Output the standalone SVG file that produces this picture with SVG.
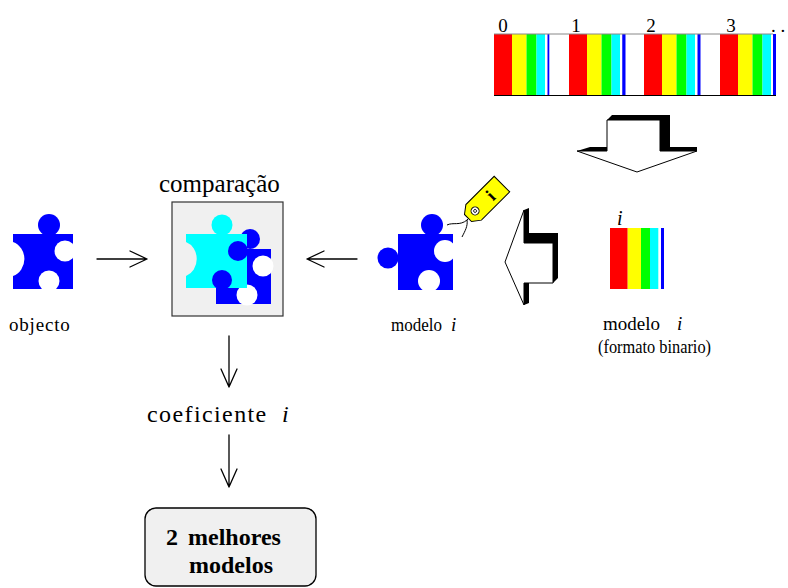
<svg xmlns="http://www.w3.org/2000/svg" width="788" height="588" viewBox="0 0 788 588">
  <style>
    .t { font-family: "Liberation Serif", "Times New Roman", serif; fill: #000; }
    .blue { fill: #0000ff; }
    .cyan { fill: #00ffff; }
    .hole { fill: #ffffff; }
    .link { fill: none; stroke: #000; stroke-width: 1.3; stroke-linecap: round; stroke-linejoin: round; }
    .rope { fill: none; stroke: #000; stroke-width: 1; }
  </style>

  <!-- binary stream of models -->
  <g id="stream">
    <g id="seg0">
      <rect x="494" y="34" width="18" height="61" fill="#ff0000"/>
      <rect x="512" y="34" width="14.5" height="61" fill="#ffff00"/>
      <rect x="526.5" y="34" width="10" height="61" fill="#00ff00"/>
      <rect x="536.5" y="34" width="8.5" height="61" fill="#00ffff"/>
      <rect x="547.5" y="34" width="1.8" height="61" fill="#0000ff"/>
    </g>
    <use href="#seg0" transform="translate(75,0)"/>
    <use href="#seg0" transform="translate(150,0)"/>
    <use href="#seg0" transform="translate(226,0)"/>
    <rect x="622.5" y="34" width="3" height="61" fill="#0000ff"/>
    <rect x="698" y="34" width="2.5" height="61" fill="#0000ff"/>
    <rect x="773" y="34" width="3" height="61" fill="#0000ff"/>
    <line x1="494" y1="34" x2="773" y2="34" stroke="#888" stroke-width="1"/>
    <line x1="494" y1="95.5" x2="776" y2="95.5" stroke="#000" stroke-width="1"/>
    <text class="t" font-size="19" x="503" y="32" text-anchor="middle">0</text>
    <text class="t" font-size="19" x="576" y="32" text-anchor="middle">1</text>
    <text class="t" font-size="19" x="651" y="32" text-anchor="middle">2</text>
    <text class="t" font-size="19" x="731" y="32" text-anchor="middle">3</text>
    <text class="t" font-size="19" x="771" y="32">. .</text>
  </g>

  <!-- block arrow: stream down to single model -->
  <g id="arrow-down">
    <polygon points="577,151 590,147 607,147 607,120 612,115 670,115 670,147 697,147 697,151" fill="#000"/>
    <polygon points="607,120 660,120 660,151 697,151 637,172 577,151 607,151" fill="#fff" stroke="#000" stroke-width="1"/>
  </g>

  <!-- block arrow: binary model to piece -->
  <g id="arrow-left">
    <polygon points="524,210 529,208 529,233 558,233 558,278 553,283 529,283 529,303 524,305" fill="#000"/>
    <polygon points="505,262 524,210 524,243 553,243 553,283 524,283 524,305" fill="#fff" stroke="#000" stroke-width="1"/>
  </g>

  <!-- model i in binary form -->
  <g id="binario">
    <rect x="610" y="228" width="17.7" height="61" fill="#ff0000"/>
    <rect x="627.7" y="228" width="13.3" height="61" fill="#ffff00"/>
    <rect x="641" y="228" width="9" height="61" fill="#00ff00"/>
    <rect x="650" y="228" width="8.3" height="61" fill="#00ffff"/>
    <rect x="661" y="228" width="3" height="61" fill="#0000ff"/>
    <text class="t" font-size="20" font-style="italic" x="617" y="225">i</text>
    <text class="t" font-size="19" x="603" y="330">modelo</text>
    <text class="t" font-size="19" font-style="italic" x="677" y="330">i</text>
    <text class="t" font-size="19" x="598" y="353" textLength="113" lengthAdjust="spacingAndGlyphs">(formato binario)</text>
  </g>

  <!-- object piece -->
  <g id="objecto">
    <circle class="blue" cx="49" cy="225" r="11"/>
    <path class="blue" d="M13,234 H73 V289 H13 V276 A17 18 0 0 0 13 242 Z"/>
    <circle class="hole" cx="65" cy="251" r="10.5"/>
    <circle class="hole" cx="49" cy="281" r="10.5"/>
    <text class="t" font-size="19" x="9" y="331" letter-spacing="0.8">objecto</text>
  </g>

  <!-- model piece with label tag -->
  <g id="modelo">
    <circle class="blue" cx="432" cy="225" r="11"/>
    <circle class="blue" cx="388" cy="258" r="10.5"/>
    <rect class="blue" x="398" y="234" width="55" height="56"/>
    <circle class="hole" cx="445" cy="251" r="11"/>
    <circle class="hole" cx="429" cy="281" r="11"/>
    <path class="rope" d="M474,213 L467,220 C460,226 453,222 447,225"/>
    <path class="rope" d="M467,220 C468,226 465,231 462,237"/>
    <g transform="translate(468,218) rotate(-45)">
      <polygon points="0,-5 8,-11 48,-11 48,11 8,11 0,5" fill="#ffff00" stroke="#000" stroke-width="1"/>
      <circle cx="10" cy="0" r="4" fill="#fff" stroke="#000" stroke-width="1"/>
      <circle cx="10" cy="0" r="1.5" fill="none" stroke="#000" stroke-width="0.8"/>
      <text class="t" font-size="18" font-weight="bold" x="32" y="6" text-anchor="middle">i</text>
    </g>
    <text class="t" font-size="19" x="391" y="331" textLength="51" lengthAdjust="spacingAndGlyphs">modelo</text>
    <text class="t" font-size="19" font-style="italic" x="451" y="331">i</text>
  </g>

  <!-- comparison of object and model -->
  <g id="comparacao">
    <text class="t" font-size="25" x="159" y="192">comparação</text>
    <rect x="172" y="202" width="111" height="114" fill="#f0f0f0" stroke="#333" stroke-width="1.2"/>
    <circle class="blue" cx="250" cy="239" r="10"/>
    <rect class="blue" x="216" y="249" width="55" height="55"/>
    <circle class="hole" cx="263" cy="266" r="10.5"/>
    <circle class="hole" cx="247" cy="295" r="10.5"/>
    <circle class="cyan" cx="222" cy="225" r="10.5"/>
    <path class="cyan" d="M186,234 H247 V288 H186 V276 A16 18 0 0 0 186 242 Z"/>
    <circle class="blue" cx="238" cy="251" r="10"/>
    <circle class="blue" cx="222" cy="280" r="10"/>
  </g>

  <!-- similarity coefficient -->
  <g id="coeficiente">
    <text class="t" font-size="24" x="147" y="422" letter-spacing="1.4">coeficiente</text>
    <text class="t" font-size="24" font-style="italic" x="282" y="422">i</text>
  </g>

  <!-- result -->
  <g id="melhores">
    <rect x="145" y="508" width="171" height="78" rx="11" ry="11" fill="#f0f0f0" stroke="#000" stroke-width="1.3"/>
    <text class="t" font-size="24" font-weight="bold" x="166" y="545">2<tspan dx="10">melhores</tspan></text>
    <text class="t" font-size="24" font-weight="bold" x="231" y="573" text-anchor="middle">modelos</text>
  </g>

  <!-- connectors -->
  <g id="connectors">
    <path class="link" d="M97,259 H147 M130,251 L147,259 L130,267"/>
    <path class="link" d="M357,259 H307 M324,251 L307,259 L324,267"/>
    <path class="link" d="M229,336 V387 M221,369 L229,387 L237,369"/>
    <path class="link" d="M229,435 V487 M221,469 L229,487 L237,469"/>
  </g>
</svg>
